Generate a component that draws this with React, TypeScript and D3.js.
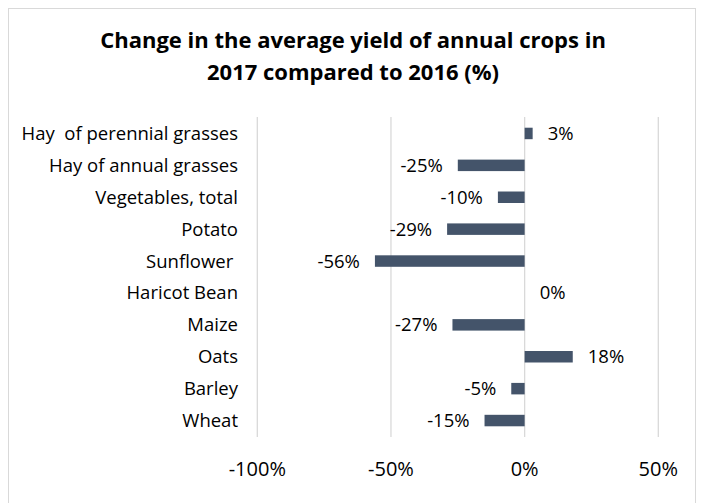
import React from "react";
import * as d3 from "d3";

const categories = [
  "Hay  of perennial grasses",
  "Hay of annual grasses",
  "Vegetables, total",
  "Potato",
  "Sunflower ",
  "Haricot Bean",
  "Maize",
  "Oats",
  "Barley",
  "Wheat",
];
const values = [3, -25, -10, -29, -56, 0, -27, 18, -5, -15];
const xTicks = [-100, -50, 0, 50];
const titleLines = [
  "Change in the average yield of annual crops in",
  "2017 compared to 2016 (%)",
];

const W = 701;
const H = 503;
const FONT = "'Open Sans', sans-serif";

export default function App() {
  const x = d3.scaleLinear().domain([-100, 50]).range([257.3, 658.3]);
  const y = d3
    .scaleBand<string>()
    .domain(categories)
    .range([117.5, 436.5])
    .paddingInner(0.64)
    .paddingOuter(0.32);
  const band = d3.scaleBand<string>().domain(categories).range([117.5, 436.5]);
  const barColor = "#44546A";
  const grid = "#D9D9D9";

  return (
    <svg
      width={W}
      height={H}
      style={{ position: "absolute", left: 0, top: 0, background: "#fff" }}
    >
      <rect x={8.5} y={8.5} width={687} height={H + 20} fill="#fff" stroke={grid} strokeWidth={1} />
      {titleLines.map((t, i) => (
        <text
          key={i}
          x={353}
          y={48 + i * 32}
          textAnchor="middle"
          fontFamily={FONT}
          fontWeight={700}
          fontSize={22}
          fill="#000"
        >
          {t}
        </text>
      ))}
      {xTicks.map((t) => (
        <g key={t}>
          <line
            x1={x(t)}
            x2={x(t)}
            y1={117}
            y2={437}
            stroke={grid}
            strokeWidth={1.3}
          />
          <text
            x={x(t)}
            y={476}
            textAnchor="middle"
            fontFamily={FONT}
            fontSize={20}
            fill="#000"
          >
            {String(t) + "%"}
          </text>
        </g>
      ))}
      {categories.map((c, i) => {
        const v = values[i];
        const x0 = x(Math.min(0, v));
        const x1 = x(Math.max(0, v));
        const cy = (band(c) as number) + band.bandwidth() / 2;
        const lx = v < 0 ? x(v) - 15 : x(v) + 15;
        return (
          <g key={c}>
            <text
              x={238}
              y={cy}
              dy="0.35em"
              textAnchor="end"
              fontFamily={FONT}
              fontSize={18.5}
              fill="#000"
              style={{ whiteSpace: "pre" }}
            >
              {c}
            </text>
            {v !== 0 && (
              <rect
                x={x0}
                y={y(c)}
                width={x1 - x0}
                height={y.bandwidth()}
                fill={barColor}
              />
            )}
            <text
              x={lx}
              y={cy}
              dy="0.35em"
              textAnchor={v < 0 ? "end" : "start"}
              fontFamily={FONT}
              fontSize={18.5}
              fill="#000"
            >
              {String(v) + "%"}
            </text>
          </g>
        );
      })}
    </svg>
  );
}
